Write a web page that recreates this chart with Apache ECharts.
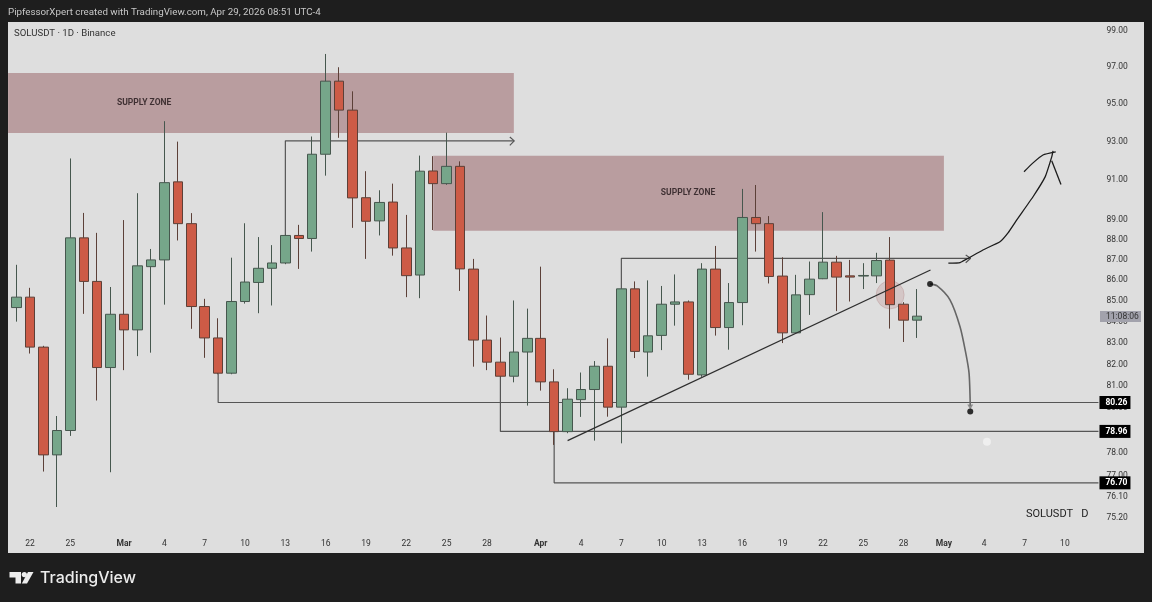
<!DOCTYPE html>
<html>
<head>
<meta charset="utf-8">
<style>
  html, body { margin: 0; padding: 0; background: #1e1e1e; }
  #chart { width: 1152px; height: 602px; }
</style>
<script src="https://cdn.jsdelivr.net/npm/echarts@6/dist/echarts.min.js"></script>
</head>
<body>
<div id="chart"></div>
<script>
const dates = [
  'Feb 21', 'Feb 22', 'Feb 23', 'Feb 24', 'Feb 25', 'Feb 26', 'Feb 27', 'Feb 28',
  'Mar 1', 'Mar 2', 'Mar 3', 'Mar 4', 'Mar 5', 'Mar 6', 'Mar 7', 'Mar 8', 'Mar 9', 'Mar 10',
  'Mar 11', 'Mar 12', 'Mar 13', 'Mar 14', 'Mar 15', 'Mar 16', 'Mar 17', 'Mar 18', 'Mar 19', 'Mar 20',
  'Mar 21', 'Mar 22', 'Mar 23', 'Mar 24', 'Mar 25', 'Mar 26', 'Mar 27', 'Mar 28', 'Mar 29', 'Mar 30', 'Mar 31',
  'Apr 1', 'Apr 2', 'Apr 3', 'Apr 4', 'Apr 5', 'Apr 6', 'Apr 7', 'Apr 8', 'Apr 9', 'Apr 10',
  'Apr 11', 'Apr 12', 'Apr 13', 'Apr 14', 'Apr 15', 'Apr 16', 'Apr 17', 'Apr 18', 'Apr 19', 'Apr 20',
  'Apr 21', 'Apr 22', 'Apr 23', 'Apr 24', 'Apr 25', 'Apr 26', 'Apr 27', 'Apr 28', 'Apr 29', 'Apr 30',
  'May 1', 'May 2', 'May 3', 'May 4', 'May 5', 'May 6', 'May 7', 'May 8', 'May 9', 'May 10', 'May 11', 'May 12'
];

const opens = [
  84.68, 85.18, 82.81, 77.92, 79.00, 88.08, 85.94, 81.86, 84.36, 83.62,
  86.66, 86.99, 90.91, 88.79, 84.73, 83.24, 81.60, 84.97, 85.89, 86.58,
  86.84, 88.20, 88.05, 92.34, 96.23, 94.67, 90.10, 88.93, 89.88, 87.58,
  86.25, 91.47, 90.82, 91.71, 86.54, 83.14, 82.11, 81.46, 82.58, 83.22,
  81.20, 78.95, 80.39, 80.85, 81.92, 80.05, 85.58, 82.58, 83.36, 84.84,
  84.95, 81.52, 86.54, 83.73, 84.92, 89.10, 88.79, 86.20, 83.48, 85.30,
  86.07, 86.88, 86.21, 86.20, 86.21, 86.98, 84.84, 84.08
];
const closes = [
  85.18, 82.81, 77.92, 79.00, 88.08, 85.94, 81.86, 84.36, 83.62, 86.70,
  86.99, 90.87, 88.79, 84.73, 83.24, 81.60, 84.97, 85.91, 86.58, 86.84,
  88.20, 88.05, 92.34, 96.23, 94.67, 90.09, 88.91, 89.86, 87.58, 86.22,
  91.46, 90.82, 91.71, 86.55, 83.14, 82.11, 81.46, 82.58, 83.22, 81.20,
  78.95, 80.41, 80.85, 81.92, 80.05, 85.58, 82.61, 83.34, 84.84, 84.95,
  81.55, 86.54, 83.73, 84.92, 89.10, 88.79, 86.18, 83.48, 85.29, 86.05,
  86.88, 86.15, 86.15, 86.23, 86.96, 84.82, 84.08, 84.27
];
const lows = [
  84.01, 82.51, 77.19, 75.66, 78.76, 84.38, 80.35, 77.16, 81.74, 82.39,
  82.55, 84.82, 87.95, 83.67, 82.31, 81.55, 81.55, 84.87, 84.41, 84.78,
  86.78, 86.55, 87.40, 91.23, 93.20, 88.58, 87.04, 88.20, 87.20, 85.18,
  85.13, 88.47, 90.76, 85.48, 81.90, 81.74, 81.40, 81.18, 80.12, 80.80,
  78.36, 78.88, 79.61, 78.55, 79.62, 78.43, 82.30, 81.44, 82.67, 83.82,
  81.30, 81.43, 83.35, 82.69, 83.84, 87.40, 85.84, 83.00, 83.46, 84.33,
  86.05, 84.51, 84.97, 85.57, 85.86, 83.68, 83.05, 83.24
];
const highs = [
  86.75, 85.63, 82.87, 79.65, 92.12, 89.33, 88.33, 85.67, 88.97, 90.33,
  87.53, 94.08, 93.00, 89.32, 85.10, 84.17, 87.10, 88.81, 88.12, 87.72,
  88.25, 88.73, 93.27, 97.72, 96.99, 95.68, 91.46, 90.48, 90.82, 89.23,
  92.27, 92.24, 93.47, 91.97, 87.04, 84.30, 83.26, 85.02, 84.63, 86.66,
  81.78, 80.91, 81.63, 82.16, 83.22, 85.60, 85.94, 85.99, 85.72, 86.28,
  85.02, 86.83, 87.68, 85.86, 90.55, 90.75, 89.17, 87.12, 86.26, 86.91,
  89.37, 87.19, 86.99, 86.83, 87.34, 88.12, 84.94, 85.57
];

const tickDates = ['Feb 22', 'Feb 25', 'Mar 1', 'Mar 4', 'Mar 7', 'Mar 10', 'Mar 13', 'Mar 16', 'Mar 19', 'Mar 22', 'Mar 25', 'Mar 28',
  'Apr 1', 'Apr 4', 'Apr 7', 'Apr 10', 'Apr 13', 'Apr 16', 'Apr 19', 'Apr 22', 'Apr 25', 'Apr 28', 'May 1', 'May 4', 'May 7', 'May 10'];
const tickNames = ['22', '25', 'Mar', '4', '7', '10', '13', '16', '19', '22', '25', '28',
  'Apr', '4', '7', '10', '13', '16', '19', '22', '25', '28', 'May', '4', '7', '10'];
const priceTicks = [99, 97, 95, 93, 91, 89, 88, 87, 86, 85, 84, 83, 82, 81, 80, 78, 77, 76.1, 75.2];

// drawings, x is the day index (0 = Feb 21)
const zones = [[-0.63, 37, 96.68, 93.46], [31, 69, 92.26, 88.43]];
const zoneNotes = [[9.49, 95.07, 'SUPPLY ZONE'], [49.96, 90.33, 'SUPPLY ZONE']];
const rayTop = [[20, 88.2], [20, 93.04], [37.03, 93.04]];
const rayTopHead = [[36.7, 93.24], [37.03, 93.04], [36.7, 92.8]];
const rayMid = [[45, 85.58], [45, 87.07], [71, 87.07]];
const rayMidHead = [[70.62, 87.23], [70.99, 87.07], [70.62, 86.85]];
const level8026 = [[15, 81.6], [15, 80.26], [80.5, 80.26]];
const level7896 = [[36, 81.46], [36, 78.96], [80.5, 78.96]];
const level7670 = [[40, 78.95], [40, 76.7], [80.5, 76.7]];
const trendLine = [[41, 78.55], [68, 86.5]];
const upPath = [[69.33, 86.83], [70.2, 86.86], [71.9, 87.48], [73.17, 87.89], [73.77, 88.33], [74.42, 88.98],
  [75.63, 90.15], [76.54, 91.18], [77.02, 92.2], [77.12, 92.52]];
const upHeadLeft = [[74.96, 91.43], [75.63, 91.89], [76.37, 92.3], [77.32, 92.46]];
const upHeadRight = [[77.02, 92.0], [77.71, 90.78]];
const downPath = [[67.97, 85.82], [68.5, 85.72], [69.45, 85.05], [70.2, 83.77], [70.62, 82.55], [70.87, 81.6], [70.96, 80.1]];
const downDots = [[67.97, 85.82], [70.96, 79.85]];
const downHead = [[70.96, 80.06]];
const highlight = [[65, 85.29]];
const whiteMark = [[72.2, 78.5]];

const GREEN = '#76a68a';
const RED = '#cd5b46';

function pathSeries(data, opts) {
  return Object.assign({
    type: 'line', xAxisIndex: 1, yAxisIndex: 0, data, symbol: 'none', silent: true, z: 2,
    lineStyle: { color: '#555', width: 1.2 },
  }, opts);
}

function levelLabel(text) {
  return {
    show: true, formatter: text, color: '#fff', backgroundColor: '#000', fontFamily: 'Roboto', fontSize: 8.5,
    fontWeight: 'bold', padding: [2, 3, 2, 6], distance: 1,
  };
}

const chart = echarts.init(document.getElementById('chart'));
chart.setOption({
  animation: false,
  backgroundColor: '#1e1e1e',
  grid: { left: 9.84, top: 22, width: 1088.64, height: 531 },
  xAxis: [{
    type: 'category',
    data: dates,
    axisLine: { show: false },
    axisTick: { show: false },
    splitLine: { show: false },
    axisLabel: {
      inside: true,
      margin: 5,
      fontFamily: 'Roboto',
      fontSize: 8.5,
      color: '#333',
      interval: (i, v) => tickDates.includes(v),
      formatter: (v) => {
        const name = tickNames[tickDates.indexOf(v)];
        return /[a-z]/.test(name) ? `{m|${name}}` : name;
      },
      rich: { m: { fontFamily: 'Roboto', fontSize: 8.5, fontWeight: 'bold', color: '#333' } },
    },
  }, {
    type: 'value', show: false, min: -0.5, max: 80.5,
  }],
  yAxis: [{
    type: 'log',
    position: 'right',
    min: 73.72,
    max: 99.5,
    axisLine: { show: false },
    axisTick: { show: false },
    splitLine: { show: false },
    axisLabel: {
      customValues: priceTicks,
      margin: 8,
      padding: [2, 0, 0, 0],
      fontFamily: 'Roboto',
      fontSize: 8.5,
      color: '#333',
      formatter: v => Number(v).toFixed(2),
    },
  }],
  graphic: [
    { type: 'rect', z: -1, shape: { x: 8, y: 22, width: 1136, height: 531 }, style: { fill: '#dedede' } },
    { type: 'text', z: 50, x: 8, y: 8, style: { text: 'PipfessorXpert created with TradingView.com, Apr 29, 2026 08:51 UTC-4', fill: '#c8c8c8', font: '9.75px Roboto' } },
    { type: 'text', z: 50, x: 14, y: 29, style: { text: 'SOLUSDT · 1D · Binance', fill: '#333', font: '9.6px Roboto' } },
    { type: 'text', z: 50, x: 1026, y: 509, style: { text: 'SOLUSDT   D', fill: '#222', font: '11px Roboto' } },
    { type: 'rect', z: 50, shape: { x: 1100, y: 311, width: 41, height: 11 }, style: { fill: '#a2a2ac' } },
    { type: 'text', z: 51, x: 1106, y: 312, style: { text: '11:08:06', fill: '#333', font: '8.5px Roboto' } },
    { type: 'polygon', z: 50, shape: { points: [[9.5, 572], [21, 572], [21, 583.5], [15.5, 583.5], [15.5, 577.5], [9.5, 577.5]] }, style: { fill: '#ececec' } },
    { type: 'circle', z: 50, shape: { cx: 24.3, cy: 574.6, r: 2.6 }, style: { fill: '#ececec' } },
    { type: 'polygon', z: 50, shape: { points: [[28, 572], [33.5, 572], [27, 583.5], [21.8, 583.5]] }, style: { fill: '#ececec' } },
    { type: 'text', z: 50, x: 40, y: 570, style: { text: 'TradingView', fill: '#ececec', font: '500 16px Inter' } },
  ],
  series: [
    {
      type: 'custom',
      xAxisIndex: 1,
      yAxisIndex: 0,
      silent: true,
      z: 1,
      clip: false,
      data: zones,
      encode: { x: [0, 1], y: [2, 3] },
      renderItem: (params, api) => {
        const a = api.coord([api.value(0), api.value(2)]);
        const b = api.coord([api.value(1), api.value(3)]);
        return {
          type: 'rect',
          shape: { x: a[0], y: a[1], width: b[0] - a[0], height: b[1] - a[1] },
          style: { fill: '#b99d9f' },
        };
      },
    },
    {
      type: 'scatter', xAxisIndex: 1, yAxisIndex: 0, data: highlight, symbolSize: 28, silent: true, z: 2,
      itemStyle: { color: 'rgba(188,135,135,0.35)', borderColor: 'rgba(170,120,120,0.35)', borderWidth: 1 },
    },
    pathSeries(rayTop),
    pathSeries(rayTopHead),
    pathSeries(rayMid),
    pathSeries(rayMidHead),
    pathSeries(level8026, { endLabel: levelLabel('80.26') }),
    pathSeries(level7896, { endLabel: levelLabel('78.96') }),
    pathSeries(level7670, { endLabel: levelLabel('76.70') }),
    {
      type: 'candlestick',
      xAxisIndex: 0,
      yAxisIndex: 0,
      silent: true,
      z: 3,
      barWidth: 10,
      data: opens.map((o, i) => [o, closes[i], lows[i], highs[i]]),
      itemStyle: {
        color: GREEN, color0: RED, borderColor: '#46574e', borderColor0: '#5c4038', borderWidth: 1,
      },
    },
    pathSeries(trendLine, { z: 4, lineStyle: { color: '#2e2e2e', width: 1.2 } }),
    pathSeries(upPath, { z: 4, smooth: 0.12, lineStyle: { color: '#1c1c1c', width: 1.3 } }),
    pathSeries(upHeadLeft, { z: 4, smooth: 0.15, lineStyle: { color: '#1c1c1c', width: 1.3 } }),
    pathSeries(upHeadRight, { z: 4, lineStyle: { color: '#1c1c1c', width: 1.3 } }),
    pathSeries(downPath, { z: 4, smooth: 0.25, lineStyle: { color: '#666', width: 1.6 } }),
    {
      type: 'scatter', xAxisIndex: 1, yAxisIndex: 0, data: downHead, symbol: 'triangle', symbolRotate: 180, symbolSize: [6, 5],
      silent: true, z: 4, itemStyle: { color: '#777' },
    },
    {
      type: 'scatter', xAxisIndex: 1, yAxisIndex: 0, data: downDots, symbolSize: 6, silent: true, z: 5, itemStyle: { color: '#000' },
    },
    {
      type: 'scatter', xAxisIndex: 1, yAxisIndex: 0, data: whiteMark, symbolSize: 8, silent: true, z: 5,
      itemStyle: { color: '#f2f2f2' },
    },
    {
      type: 'scatter', xAxisIndex: 1, yAxisIndex: 0, data: zoneNotes, symbolSize: 1, silent: true, z: 5,
      itemStyle: { color: 'transparent' },
      label: {
        show: true, position: 'inside', formatter: p => p.value[2], color: '#1f1416', fontFamily: 'Roboto', fontSize: 8.5, fontWeight: 'bold',
      },
    },
  ],
});
</script>
</body>
</html>
